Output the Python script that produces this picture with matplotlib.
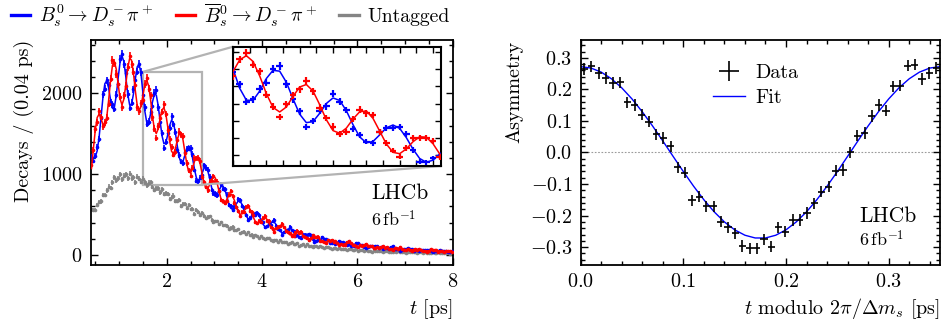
import numpy as np
import matplotlib
matplotlib.use("Agg")
import matplotlib.pyplot as plt
from matplotlib.lines import Line2D
from matplotlib.ticker import MultipleLocator, FixedLocator
from mpl_toolkits.axes_grid1.inset_locator import mark_inset

# ---------------- data (left panel: 0.04 ps bins from 0.40 to 8.00 ps) ----------------
t_bins = np.linspace(0.42, 7.98, 190)
bin_halfwidth = 0.02

blue_data = [
    1211, 1167, 1225, 1339, 1438, 1692, 1986, 2058, 2161, 2099,
    1886, 1867, 1809, 1981, 2120, 2423, 2482, 2364, 2254, 1992,
    1821, 1881, 2048, 2163, 2269, 2364, 2260, 1974, 1825, 1624,
    1649, 1771, 1846, 2003, 2041, 1829, 1648, 1510, 1329, 1393,
    1513, 1569, 1715, 1621, 1525, 1298, 1238, 1156, 1137, 1269,
    1312, 1317, 1328, 1248, 1057, 921, 913, 958, 986, 1108,
    1077, 1055, 966, 805, 762, 762, 736, 797, 874, 815,
    811, 746, 620, 609, 554, 595, 596, 687, 675, 610,
    584, 492, 434, 457, 500, 497, 499, 520, 497, 416,
    403, 343, 357, 382, 375, 418, 432, 363, 327, 310,
    253, 281, 309, 304, 349, 310, 294, 234, 242, 224,
    214, 253, 252, 245, 257, 247, 198, 165, 174, 187,
    183, 219, 201, 201, 187, 143, 147, 156, 140, 154,
    178, 151, 160, 151, 118, 130, 111, 124, 115, 147,
    143, 122, 127, 102, 87, 100, 114, 106, 101, 112,
    111, 86, 93, 73, 81, 89, 80, 97, 106, 80,
    73, 75, 54, 66, 76, 68, 88, 71, 70, 49,
    61, 56, 51, 67, 62, 58, 66, 67, 49, 38,
    45, 51, 46, 62, 52, 54, 51, 35, 40, 46,
]
blue_fit = [
    1191, 1205, 1214, 1289, 1457, 1700, 1946, 2118, 2156, 2067,
    1921, 1815, 1826, 1972, 2190, 2384, 2462, 2393, 2207, 1996,
    1860, 1859, 1989, 2177, 2327, 2364, 2232, 2005, 1779, 1640,
    1637, 1746, 1893, 1989, 1979, 1850, 1656, 1476, 1377, 1389,
    1486, 1601, 1666, 1637, 1517, 1353, 1210, 1142, 1157, 1234,
    1316, 1350, 1310, 1202, 1067, 958, 913, 939, 1008, 1072,
    1090, 1045, 947, 837, 754, 724, 749, 803, 848, 853,
    808, 727, 640, 580, 564, 590, 633, 666, 665, 625,
    560, 494, 453, 446, 471, 504, 527, 520, 484, 431,
    381, 351, 351, 371, 397, 412, 404, 372, 331, 295,
    275, 279, 297, 318, 327, 317, 291, 258, 230, 218,
    223, 238, 254, 259, 249, 227, 202, 181, 174, 179,
    193, 204, 207, 197, 179, 157, 143, 139, 146, 157,
    166, 168, 159, 143, 127, 117, 115, 122, 131, 137,
    138, 129, 116, 103, 96, 95, 101, 109, 114, 112,
    105, 93, 83, 77, 78, 84, 90, 94, 92, 84,
    75, 68, 64, 65, 70, 75, 77, 75, 68, 61,
    55, 53, 55, 59, 63, 65, 62, 57, 51, 46,
    45, 47, 51, 54, 55, 52, 47, 42, 38, 38,
]
red_data = [
    1109, 1301, 1554, 1640, 1777, 1706, 1590, 1642, 1700, 1873,
    2182, 2407, 2379, 2241, 2110, 1958, 1828, 1976, 2089, 2322,
    2459, 2357, 2269, 2098, 1829, 1778, 1877, 1918, 2116, 2192,
    2056, 1977, 1701, 1563, 1444, 1591, 1700, 1769, 1866, 1743,
    1552, 1430, 1331, 1243, 1270, 1419, 1527, 1487, 1469, 1265,
    1138, 1049, 979, 1080, 1202, 1195, 1200, 1162, 970, 899,
    846, 798, 904, 921, 976, 906, 905, 792, 676, 668,
    645, 664, 748, 791, 726, 644, 597, 546, 487, 536,
    537, 589, 609, 548, 530, 491, 404, 390, 423, 406,
    461, 480, 426, 425, 345, 323, 281, 334, 351, 353,
    384, 344, 295, 284, 272, 240, 238, 276, 300, 276,
    289, 236, 219, 205, 180, 211, 243, 224, 225, 227,
    171, 169, 166, 147, 183, 174, 188, 162, 178, 154,
    127, 137, 128, 128, 155, 169, 145, 122, 121, 114,
    97, 118, 112, 126, 133, 109, 114, 111, 84, 84,
    97, 82, 102, 110, 90, 99, 74, 74, 58, 81,
    83, 79, 93, 78, 65, 67, 69, 57, 52, 67,
    76, 63, 74, 56, 55, 53, 42, 55, 68, 56,
    57, 61, 40, 45, 45, 37, 53, 45, 51, 39,
]
red_fit = [
    1069, 1315, 1546, 1701, 1743, 1690, 1614, 1602, 1704, 1913,
    2159, 2345, 2394, 2299, 2110, 1932, 1858, 1928, 2107, 2308,
    2430, 2411, 2255, 2035, 1850, 1786, 1838, 1975, 2111, 2160,
    2093, 1924, 1717, 1555, 1502, 1560, 1684, 1794, 1823, 1747,
    1588, 1411, 1284, 1253, 1313, 1419, 1504, 1514, 1427, 1279,
    1128, 1030, 1014, 1070, 1154, 1212, 1207, 1131, 1012, 896,
    826, 821, 869, 933, 970, 952, 881, 781, 692, 643,
    647, 687, 734, 756, 734, 675, 597, 532, 502, 511,
    546, 582, 595, 574, 523, 462, 414, 394, 405, 433,
    459, 465, 443, 401, 353, 319, 308, 320, 343, 364,
    365, 346, 311, 275, 251, 245, 257, 276, 290, 288,
    271, 242, 214, 197, 195, 207, 222, 231, 228, 213,
    189, 168, 157, 157, 167, 179, 185, 181, 168, 149,
    134, 126, 129, 139, 149, 153, 149, 136, 121, 108,
    104, 107, 116, 123, 126, 121, 111, 97, 88, 86,
    89, 95, 101, 103, 98, 88, 78, 72, 70, 74,
    79, 84, 84, 79, 72, 63, 59, 59, 62, 67,
    71, 69, 65, 59, 53, 49, 50, 53, 57, 60,
    59, 55, 49, 44, 41, 42, 45, 48, 50, 49,
]
grey_data = [
    575, 558, 561, 615, 660, 662, 745, 741, 798, 845,
    830, 901, 960, 925, 951, 996, 935, 981, 999, 948,
    1005, 950, 961, 902, 965, 944, 905, 943, 899, 863,
    893, 903, 842, 802, 823, 826, 775, 812, 756, 761,
    756, 696, 720, 735, 671, 665, 679, 609, 631, 631,
    580, 616, 563, 565, 512, 552, 530, 494, 518, 482,
    452, 471, 477, 432, 402, 416, 417, 380, 405, 365,
    369, 364, 323, 339, 350, 307, 304, 316, 270, 286,
    289, 256, 281, 249, 252, 219, 248, 235, 214, 232,
    211, 193, 207, 213, 186, 169, 180, 184, 163, 182,
    159, 164, 163, 138, 152, 162, 135, 135, 144, 115,
    128, 132, 112, 131, 111, 114, 93, 115, 108, 95,
    109, 95, 85, 97, 101, 84, 74, 83, 86, 73,
    87, 72, 77, 77, 61, 71, 78, 62, 62, 69,
    51, 61, 63, 51, 65, 52, 55, 41, 57, 53,
    45, 55, 46, 40, 48, 53, 41, 35, 42, 45,
    36, 46, 36, 40, 41, 29, 38, 43, 31, 33,
    38, 25, 33, 35, 26, 37, 27, 30, 20, 32,
    29, 24, 31, 25, 20, 28, 30, 23, 17, 23,
]

# ---------------- data (right panel: asymmetry folded in one period) ----------------
asym_t = np.linspace(0.0035, 0.3465, 50)
asym_halfwidth = 0.0035
asym_err = 0.018
asym_data = [
    0.265, 0.273, 0.252, 0.236, 0.220, 0.222, 0.159, 0.151, 0.120, 0.098,
    0.058, 0.046, 0.019, -0.047, -0.064, -0.152, -0.140, -0.171, -0.171, -0.219,
    -0.237, -0.256, -0.296, -0.304, -0.304, -0.275, -0.298, -0.237, -0.251, -0.214,
    -0.214, -0.192, -0.161, -0.124, -0.108, -0.058, -0.055, 0.000, 0.053, 0.062,
    0.116, 0.151, 0.133, 0.210, 0.212, 0.275, 0.278, 0.233, 0.252, 0.268,
]
fit_t = np.linspace(0.0, 0.35, 36)
asym_fit = [
    0.2720, 0.2676, 0.2547, 0.2335, 0.2048, 0.1696, 0.1289, 0.0841, 0.0365, -0.0122,
    -0.0605, -0.1069, -0.1498, -0.1880, -0.2200, -0.2451, -0.2622, -0.2709, -0.2709, -0.2622,
    -0.2451, -0.2200, -0.1880, -0.1498, -0.1069, -0.0605, -0.0122, 0.0365, 0.0841, 0.1289,
    0.1696, 0.2048, 0.2335, 0.2547, 0.2676, 0.2720,
]

legend_labels = [r"$B_s^0 \rightarrow D_s^- \pi^+$",
                 r"$\overline{B}{}_s^0 \rightarrow D_s^- \pi^+$",
                 "Untagged"]

# ---------------- style ----------------
BLUE = "#0000ff"
RED = "#ff0000"
GREY = "#858585"
plt.rcParams.update({
    "font.family": "serif",
    "font.serif": ["cmr10"],
    "mathtext.fontset": "cm",
    "axes.formatter.use_mathtext": True,
    "font.size": 14.5,
    "axes.linewidth": 1.3,
})

fig = plt.figure(figsize=(9.43, 3.29), dpi=100)


def style_ticks(a):
    a.tick_params(which="both", direction="in", top=True, right=True, width=1.0)
    a.tick_params(which="major", length=5, pad=6)
    a.tick_params(which="minor", length=2.6)


def draw_decays(a, elw, ms, with_grey=True):
    if with_grey:
        a.errorbar(t_bins, grey_data, xerr=bin_halfwidth, yerr=np.sqrt(grey_data),
                   fmt="o", ms=ms, mew=0, color=GREY, ecolor=GREY, elinewidth=elw, zorder=2)
    a.plot(t_bins, blue_fit, color=BLUE, lw=1.1, zorder=3)
    a.errorbar(t_bins, blue_data, xerr=bin_halfwidth, yerr=np.sqrt(blue_data),
               fmt="o", ms=ms, mew=0, color=BLUE, ecolor=BLUE, elinewidth=elw, zorder=3)
    a.plot(t_bins, red_fit, color=RED, lw=1.1, zorder=4)
    a.errorbar(t_bins, red_data, xerr=bin_halfwidth, yerr=np.sqrt(red_data),
               fmt="o", ms=ms, mew=0, color=RED, ecolor=RED, elinewidth=elw, zorder=4)


# ---- left panel ----
ax = fig.add_axes([0.096, 0.1945, 0.384, 0.684])
draw_decays(ax, 1.2, 2.6)
ax.set_xlim(0.4, 8.0)
ax.set_ylim(-124, 2660)
ax.xaxis.set_major_locator(FixedLocator([2, 4, 6, 8]))
ax.xaxis.set_minor_locator(MultipleLocator(0.5))
ax.yaxis.set_major_locator(MultipleLocator(1000))
ax.yaxis.set_minor_locator(MultipleLocator(200))
style_ticks(ax)
ax.set_ylabel("Decays / (0.04 ps)", loc="top", labelpad=5)
ax.set_xlabel(r"$t$ [ps]", loc="right", labelpad=4)
ax.text(0.775, 0.32, "LHCb", transform=ax.transAxes, fontsize=15.5, va="center", ha="left")
ax.text(0.775, 0.205, r"$6\,\mathrm{fb}^{-1}$", transform=ax.transAxes, fontsize=13,
        va="center", ha="left")

# ---- inset ----
axins = fig.add_axes([0.2471, 0.4954, 0.2209, 0.3626])
draw_decays(axins, 1.6, 0, with_grey=False)
axins.set_xlim(1.5, 2.75)
axins.set_ylim(870, 2265)
axins.xaxis.set_major_locator(MultipleLocator(0.1))
axins.yaxis.set_major_locator(MultipleLocator(200))
axins.tick_params(which="both", direction="in", top=True, right=True, length=4, width=1.0,
                  labelbottom=False, labelleft=False)
for s in axins.spines.values():
    s.set_linewidth(1.5)
mark_inset(ax, axins, loc1=2, loc2=4, fc="none", ec="#b3b3b3", lw=1.6, zorder=1)

# ---- top legend ----
handles = [Line2D([], [], color=BLUE, lw=2.4),
           Line2D([], [], color=RED, lw=2.4),
           Line2D([], [], color=GREY, lw=2.4)]
fig.legend(handles, legend_labels, loc="center left", bbox_to_anchor=(0.003, 0.953),
           ncol=3, frameon=False, handlelength=1.0, handletextpad=0.45,
           columnspacing=1.1, fontsize=14.2, borderaxespad=0.0)

# ---- right panel ----
ax2 = fig.add_axes([0.6158, 0.196, 0.381, 0.681])
ax2.axhline(0.0, color="#9a9a9a", ls=(0, (1.5, 1.5)), lw=0.8, zorder=1)
fit_line, = ax2.plot(fit_t, asym_fit, color=BLUE, lw=1.0, zorder=2)
data_eb = ax2.errorbar(asym_t, asym_data, xerr=asym_halfwidth, yerr=asym_err, fmt="none",
                       ecolor="black", elinewidth=1.2, zorder=3)
ax2.set_xlim(0.0, 0.35)
ax2.set_ylim(-0.355, 0.355)
ax2.xaxis.set_major_locator(MultipleLocator(0.1))
ax2.xaxis.set_minor_locator(MultipleLocator(0.02))
ax2.yaxis.set_major_locator(MultipleLocator(0.1))
ax2.yaxis.set_minor_locator(MultipleLocator(0.02))
style_ticks(ax2)
ax2.set_ylabel("Asymmetry", loc="top", labelpad=5)
ax2.set_xlabel(r"$t$ modulo $2\pi/\Delta m_s$ [ps]", loc="right", labelpad=4)
ax2.legend([data_eb, fit_line], ["Data", "Fit"], loc="upper left",
           bbox_to_anchor=(0.318, 0.978), frameon=False, handlelength=1.6,
           handletextpad=0.5, labelspacing=0.35, fontsize=14.5)
ax2.text(0.775, 0.215, "LHCb", transform=ax2.transAxes, fontsize=15.5, va="center", ha="left")
ax2.text(0.775, 0.115, r"$6\,\mathrm{fb}^{-1}$", transform=ax2.transAxes, fontsize=13,
         va="center", ha="left")

fig.savefig("out.png", dpi=100)
